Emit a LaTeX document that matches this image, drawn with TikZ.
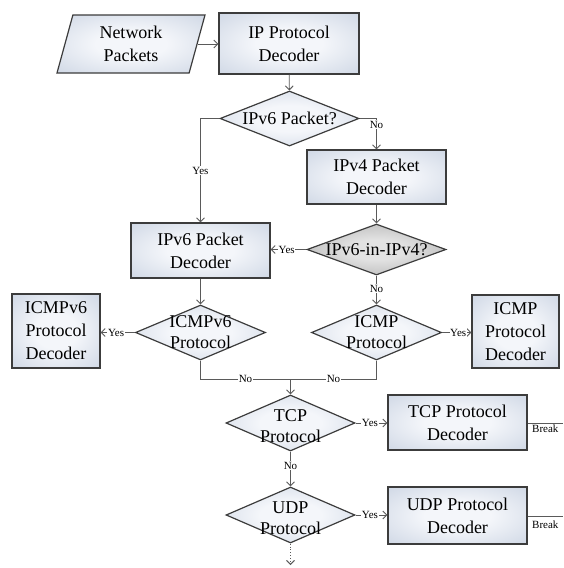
\documentclass[tikz,border=0pt]{standalone}
\usepackage{fontspec}
\setmainfont{Liberation Serif}
\usepackage{tikz}
\usetikzlibrary{positioning, arrows.meta, shapes.geometric}

\definecolor{boxmid}{HTML}{F4F6FA}
\definecolor{boxedge}{HTML}{BAC6D9}
\definecolor{greymid}{HTML}{E2E2E2}
\definecolor{greyedge}{HTML}{939393}
\definecolor{rim}{HTML}{3C3C3C}
\definecolor{wire}{HTML}{5A5A5A}

\pgfdeclareradialshading{boxshade}{\pgfpoint{0bp}{0bp}}{color(0bp)=(boxmid); color(12bp)=(boxmid); color(50bp)=(boxedge); color(100bp)=(boxedge)}
\pgfdeclareradialshading{greyshade}{\pgfpoint{0bp}{0bp}}{color(0bp)=(greymid); color(10bp)=(greymid); color(50bp)=(greyedge); color(100bp)=(greyedge)}

\tikzset{
    proc/.style={rectangle, draw=rim, line width=1.2pt, shading=boxshade,
        align=center, font=\fontsize{18}{23}\selectfont, inner sep=0pt},
    decision/.style={diamond, draw=rim, line width=1.2pt, shading=boxshade, inner sep=0pt},
    qtext/.style={font=\fontsize{18}{21}\selectfont, align=center},
    flow/.style={draw=wire, line width=0.9pt, -{Straight Barb[length=4pt, width=8pt]}},
    plain/.style={draw=wire, line width=0.9pt},
    lbl/.style={fill=white, inner sep=0.6pt, font=\fontsize{11}{13}\selectfont}
}

\begin{document}
\begin{tikzpicture}[x=1pt, y=-1pt]
    \useasboundingbox (0,0) rectangle (563,568);

    % input and first decoder
    \node[trapezium, trapezium left angle=66, trapezium right angle=114, trapezium stretches body,
        draw=rim, line width=1.2pt, shading=boxshade, minimum width=148pt,
        minimum height=58pt, align=center, font=\fontsize{18}{23}\selectfont, inner sep=0pt]
        (pkts) at (131,44) {Network\\Packets};
    \node[proc, minimum width=140pt, minimum height=61pt] (ipdec) at (289,43.5) {IP Protocol\\Decoder};

    % IPv6 / IPv4 split
    \node[decision, minimum width=139pt, minimum height=55pt,
        label={[qtext]center:IPv6 Packet?}] (q6) at (289.5,118.5) {};
    \node[proc, minimum width=139pt, minimum height=54pt] (v4dec) at (376.5,177) {IPv4 Packet\\Decoder};
    \node[decision, minimum width=139pt, minimum height=51pt, shading=greyshade,
        label={[qtext]center:IPv6-in-IPv4?}] (q64) at (376.5,249.5) {};
    \node[proc, minimum width=139pt, minimum height=55pt] (v6dec) at (200.5,250.5) {IPv6 Packet\\Decoder};

    % ICMP checks
    \node[decision, minimum width=130pt, minimum height=55pt,
        label={[qtext]center:ICMPv6\\Protocol}] (qicmp6) at (200.5,332.5) {};
    \node[decision, minimum width=130pt, minimum height=55pt,
        label={[qtext]center:ICMP\\Protocol}] (qicmp) at (376.5,332.5) {};
    \node[proc, minimum width=88pt, minimum height=74pt] (icmp6dec) at (56,331) {ICMPv6\\Protocol\\Decoder};
    \node[proc, minimum width=87pt, minimum height=73pt] (icmpdec) at (515.5,331.5) {ICMP\\Protocol\\Decoder};

    % transport layer
    \coordinate (join) at (290.5,379);
    \node[decision, minimum width=129pt, minimum height=56pt,
        label={[qtext, yshift=-3pt]center:TCP\\Protocol}] (qtcp) at (290.5,423) {};
    \node[decision, minimum width=129pt, minimum height=56pt,
        label={[qtext, yshift=-3pt]center:UDP\\Protocol}] (qudp) at (290.5,515) {};
    \node[proc, minimum width=139pt, minimum height=55pt] (tcpdec) at (457.5,422.5) {TCP Protocol\\Decoder};
    \node[proc, minimum width=139pt, minimum height=57pt] (udpdec) at (457.5,515.5) {UDP Protocol\\Decoder};
    \coordinate (tcpend) at (563,423);
    \coordinate (udpend) at (563,516);
    \coordinate (more) at (290.5,565);

    % connectors
    \draw[flow] (pkts.east) -- (ipdec.west |- pkts.east);
    \draw[flow] (ipdec) -- (q6);
    \draw[flow] (q6.west) -| node[lbl, pos=0.75] {Yes} (v6dec.north);
    \draw[flow] (q6.east) -| node[lbl, pos=0.6] {No} (v4dec.north);
    \draw[flow] (v4dec) -- (q64);
    \draw[flow] (q64.west) -- node[lbl, pos=0.55] {Yes} (v6dec.east |- q64.west);
    \draw[flow] (q64) -- node[lbl, pos=0.45] {No} (qicmp);
    \draw[flow] (v6dec) -- (qicmp6);
    \draw[flow] (qicmp6.west) -- node[lbl, pos=0.55] {Yes} (icmp6dec.east |- qicmp6.west);
    \draw[flow] (qicmp.east) -- node[lbl, pos=0.55] {Yes} (icmpdec.west |- qicmp.east);
    \draw[plain] (qicmp6.south) |- node[lbl, pos=0.75] {No} (join);
    \draw[plain] (qicmp.south) |- node[lbl, pos=0.75] {No} (join);
    \draw[flow] (join) -- (qtcp.north);
    \draw[flow] (qtcp.east) -- node[lbl, pos=0.45] {Yes} (tcpdec.west |- qtcp.east);
    \draw[flow] (qtcp) -- node[lbl, pos=0.4] {No} (qudp);
    \draw[flow] (qudp.east) -- node[lbl, pos=0.45] {Yes} (udpdec.west |- qudp.east);
    \draw[flow, dotted] (qudp.south) -- (more);
    \draw[plain] (tcpdec.east |- tcpend) -- node[below=1pt, lbl, fill=none] {Break} (tcpend);
    \draw[plain] (udpdec.east |- udpend) -- node[below=4pt, lbl, fill=none] {Break} (udpend);
\end{tikzpicture}
\end{document}
